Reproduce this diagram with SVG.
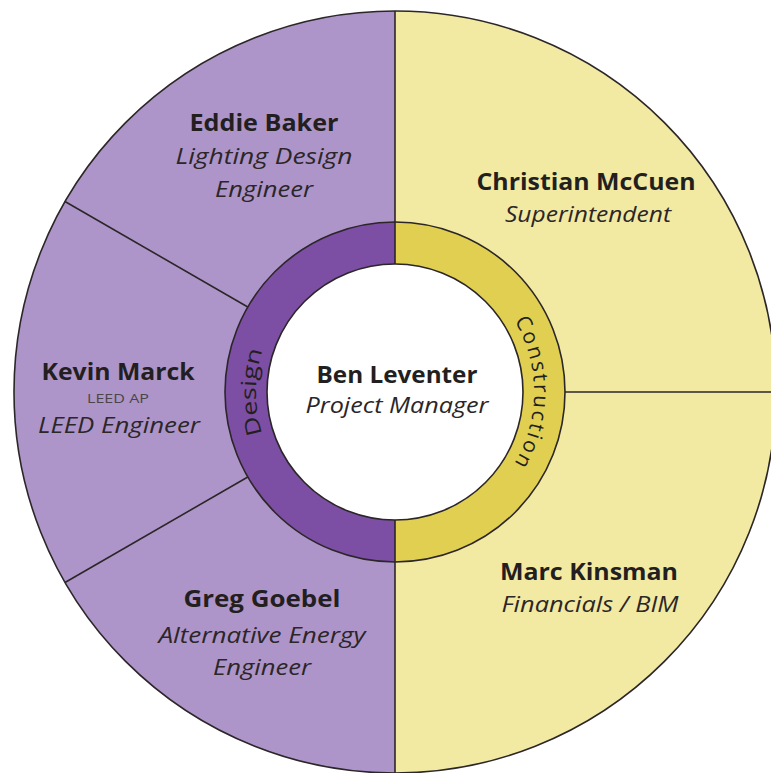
<svg xmlns="http://www.w3.org/2000/svg" width="771" height="773" viewBox="0 0 771 773">
  <style>
    .edge { stroke: #2b2628; stroke-width: 1.6; fill: none; }
    .name { font-family: "Open Sans", "Noto Sans", sans-serif; font-weight: bold; font-size: 23px; fill: #231f20; text-anchor: middle; }
    .role { font-family: "Open Sans", "Noto Sans", sans-serif; font-style: italic; font-size: 22px; fill: #2b2628; text-anchor: middle; }
    .cred { font-family: "Open Sans", "Noto Sans", sans-serif; font-size: 13px; fill: #4a4548; text-anchor: middle; }
    .ring { font-family: "Open Sans", "Noto Sans", sans-serif; font-size: 21px; fill: #231f20; }
  </style>
  <defs>
    <path id="arcDesign" d="M325.5,512.4 A139,139 0 0,1 325.5,271.6"/>
    <path id="arcConstruction" d="M464.5,271.6 A139,139 0 0,1 464.5,512.4"/>
  </defs>
  <rect width="771" height="773" fill="#ffffff"/>

  <g id="sectors">
    <path d="M395,11 A381,381 0 0,0 395,773 Z" fill="#ae95c9"/>
    <path d="M395,11 A381,381 0 0,1 395,773 Z" fill="#f2e9a2"/>
    <circle cx="395" cy="392" r="381" class="edge" stroke-width="2"/>
  </g>

  <g id="connectors">
    <line x1="395" y1="11" x2="395" y2="773" class="edge" stroke-width="2"/>
    <line x1="565" y1="392" x2="777" y2="392" class="edge"/>
    <line x1="247.8" y1="307" x2="65" y2="201.5" class="edge"/>
    <line x1="247.8" y1="477" x2="65" y2="582.5" class="edge"/>
  </g>

  <g id="ring">
    <path d="M395,222 A170,170 0 0,0 395,562 Z" fill="#7c4ea4"/>
    <path d="M395,222 A170,170 0 0,1 395,562 Z" fill="#e1cf52"/>
    <circle cx="395" cy="392" r="170" class="edge"/>
    <line x1="395" y1="222" x2="395" y2="562" class="edge" stroke-width="2"/>
  </g>

  <g id="center">
    <circle cx="395" cy="392" r="128" class="edge" style="fill:#ffffff"/>
    <text class="name" x="397" y="383" textLength="161" lengthAdjust="spacingAndGlyphs">Ben Leventer</text>
    <text class="role" x="397" y="413" textLength="183" lengthAdjust="spacingAndGlyphs">Project Manager</text>
  </g>

  <g id="design-label">
    <text class="ring"><textPath href="#arcDesign" startOffset="50%" text-anchor="middle" textLength="85" lengthAdjust="spacingAndGlyphs">Design</textPath></text>
  </g>

  <g id="construction-label">
    <text class="ring"><textPath href="#arcConstruction" startOffset="50%" text-anchor="middle" textLength="150" lengthAdjust="spacing">Construction</textPath></text>
  </g>

  <g id="eddie-baker">
    <text class="name" x="264" y="131" textLength="149" lengthAdjust="spacingAndGlyphs">Eddie Baker</text>
    <text class="role" x="264" y="164" textLength="177" lengthAdjust="spacingAndGlyphs">Lighting Design</text>
    <text class="role" x="264" y="197" textLength="98" lengthAdjust="spacingAndGlyphs">Engineer</text>
  </g>

  <g id="kevin-marck">
    <text class="name" x="118" y="380" textLength="153" lengthAdjust="spacingAndGlyphs">Kevin Marck</text>
    <text class="cred" x="118" y="403" textLength="62" lengthAdjust="spacingAndGlyphs">LEED AP</text>
    <text class="role" x="119" y="433" textLength="162" lengthAdjust="spacingAndGlyphs">LEED Engineer</text>
  </g>

  <g id="greg-goebel">
    <text class="name" x="262" y="607" textLength="157" lengthAdjust="spacingAndGlyphs">Greg Goebel</text>
    <text class="role" x="262" y="643" textLength="207" lengthAdjust="spacingAndGlyphs">Alternative Energy</text>
    <text class="role" x="262" y="675" textLength="98" lengthAdjust="spacingAndGlyphs">Engineer</text>
  </g>

  <g id="christian-mccuen">
    <text class="name" x="586" y="190" textLength="219" lengthAdjust="spacingAndGlyphs">Christian McCuen</text>
    <text class="role" x="588" y="222" textLength="166" lengthAdjust="spacingAndGlyphs">Superintendent</text>
  </g>

  <g id="marc-kinsman">
    <text class="name" x="589" y="580" textLength="178" lengthAdjust="spacingAndGlyphs">Marc Kinsman</text>
    <text class="role" x="590" y="612" textLength="177" lengthAdjust="spacingAndGlyphs">Financials / BIM</text>
  </g>
</svg>
